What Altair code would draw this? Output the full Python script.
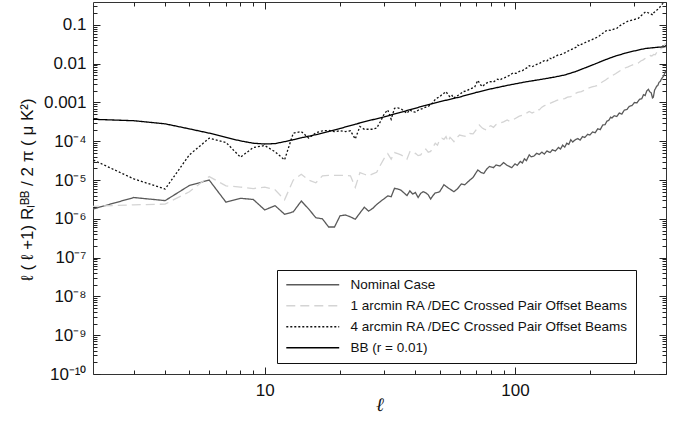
import json
import altair as alt
import pandas as pd

SERIES = [
    "Nominal Case",
    "1 arcmin RA /DEC Crossed Pair Offset Beams",
    "4 arcmin RA /DEC Crossed Pair Offset Beams",
    "BB (r = 0.01)",
]

# ---- Nominal case (log10 of value) ----
nominal_ell = [2, 3, 4, 5, 6, 7, 8, 9, 10, 11, 12, 13, 14, 15, 16, 17, 18, 19, 20, 21, 22, 23, 24, 25, 26, 27, 28, 29, 30,
               31, 32, 33, 34, 35, 36, 37, 38, 39, 40, 41, 42, 43, 44, 45, 46, 47, 48, 49, 50, 52, 54, 57, 59, 61, 63, 66,
               68, 71, 73, 75, 77, 79, 82, 84, 87, 90, 93, 97, 100, 102, 105, 107, 109, 111, 114, 116, 119, 122, 125, 128,
               131, 134, 138, 141, 145, 149, 152, 155, 158, 161, 164, 167, 170, 174, 178, 182, 186, 190, 195, 199, 204,
               209, 214, 219, 224, 229, 233, 237, 241, 244, 249, 255, 261, 267, 273, 280, 286, 293, 300, 307, 314, 321,
               326, 331, 336, 341, 345, 350, 354, 357, 361, 364, 368, 372, 376, 380, 384, 388, 392, 395, 398, 400]
nominal_log10 = [-5.77, -5.45, -5.53, -5.14, -5.00, -5.57, -5.47, -5.50, -5.77, -5.66, -5.88, -5.82, -5.54, -5.75, -5.97,
                 -6.00, -6.21, -6.21, -5.92, -5.90, -5.95, -6.01, -5.85, -5.70, -5.80, -5.73, -5.63, -5.55, -5.48, -5.41,
                 -5.43, -5.21, -5.23, -5.26, -5.33, -5.40, -5.28, -5.36, -5.32, -5.45, -5.34, -5.30, -5.33, -5.38, -5.49,
                 -5.40, -5.33, -5.32, -5.30, -5.12, -5.20, -5.30, -5.22, -5.10, -5.12, -5.00, -4.93, -4.74, -4.80, -4.83,
                 -4.72, -4.65, -4.68, -4.61, -4.64, -4.55, -4.62, -4.68, -4.58, -4.62, -4.52, -4.56, -4.45, -4.50, -4.35,
                 -4.40, -4.38, -4.31, -4.34, -4.28, -4.33, -4.25, -4.29, -4.22, -4.25, -4.16, -4.20, -4.10, -4.15, -4.05,
                 -4.08, -3.96, -4.02, -3.96, -3.93, -3.97, -3.88, -3.90, -3.82, -3.84, -3.76, -3.78, -3.68, -3.70, -3.58,
                 -3.57, -3.48, -3.46, -3.38, -3.40, -3.34, -3.36, -3.27, -3.30, -3.20, -3.18, -3.10, -3.08, -3.00, -3.01,
                 -2.92, -2.90, -2.80, -2.82, -2.70, -2.66, -2.72, -2.75, -2.88, -2.86, -2.68, -2.64, -2.58, -2.56, -2.48,
                 -2.46, -2.40, -2.36, -2.32, -2.27, -2.22, -2.17]

# ---- 1 arcmin offset ----
arc1_ell = [2, 3, 4, 5, 6, 7, 8, 9, 10, 11, 12, 13, 14, 15, 16, 17, 18, 19, 20, 21, 22, 23, 24, 25, 26, 27, 28, 29, 30,
            31, 32, 33, 34, 35, 36, 37, 38, 39, 40, 41, 42, 43, 44, 45, 46, 47, 48, 49, 50, 51, 52, 53, 54, 55, 56, 57,
            58, 60, 62, 64, 66, 68, 70, 72, 74, 75, 77, 79, 80, 82, 84, 87, 90, 93, 95, 98, 101, 104, 107, 109, 112,
            114, 117, 120, 122, 125, 128, 131, 134, 138, 143, 146, 149, 153, 158, 162, 167, 172, 178, 184, 190, 196,
            203, 209, 216, 223, 230, 237, 244, 252, 260, 267, 275, 283, 292, 301, 311, 318, 325, 333, 341, 347, 352,
            358, 363, 369, 375, 380, 385, 389, 393, 397, 400]
arc1_log10 = [-5.68, -5.64, -5.62, -5.30, -4.91, -5.15, -5.18, -5.22, -5.18, -5.25, -5.51, -5.00, -4.85, -5.00, -5.07,
              -4.89, -4.88, -4.88, -4.88, -4.88, -4.89, -5.19, -4.81, -4.85, -4.89, -4.84, -4.80, -4.61, -4.44, -4.32,
              -4.46, -4.29, -4.32, -4.35, -4.39, -4.46, -4.27, -4.33, -4.31, -4.37, -4.35, -4.25, -4.20, -4.28, -4.26,
              -4.15, -4.05, -4.10, -3.96, -3.92, -3.95, -3.88, -4.01, -3.90, -3.95, -4.01, -3.93, -3.84, -3.86, -3.88,
              -3.80, -3.81, -3.70, -3.58, -3.66, -3.68, -3.71, -3.62, -3.60, -3.64, -3.57, -3.53, -3.50, -3.45, -3.48,
              -3.45, -3.40, -3.35, -3.33, -3.30, -3.26, -3.23, -3.27, -3.24, -3.18, -3.19, -3.12, -3.08, -3.07, -3.02,
              -2.98, -2.95, -2.93, -2.92, -2.90, -2.86, -2.85, -2.78, -2.74, -2.72, -2.68, -2.63, -2.60, -2.58, -2.55,
              -2.47, -2.42, -2.36, -2.31, -2.26, -2.20, -2.15, -2.11, -2.08, -2.04, -2.01, -1.98, -1.93, -1.90, -1.85,
              -1.82, -1.79, -1.80, -1.76, -1.77, -1.70, -1.68, -1.63, -1.60, -1.58, -1.55, -1.50, -1.47]

# ---- 4 arcmin offset ----
arc4_ell = [2, 3, 4, 5, 6, 7, 8, 9, 10, 11, 12, 13, 14, 15, 16, 17, 18, 19, 20, 21, 22, 23, 24, 25, 26, 27, 28, 29, 30,
            31, 32, 33, 34, 35, 36, 37, 38, 39, 40, 41, 42, 43, 44, 45, 46, 47, 48, 49, 50, 51, 52, 53, 54, 55, 56, 57,
            58, 60, 62, 64, 66, 68, 69, 71, 73, 74, 76, 77, 79, 82, 85, 87, 89, 91, 93, 95, 98, 101, 104, 107, 109, 112,
            114, 117, 120, 122, 125, 128, 131, 134, 138, 140, 143, 146, 149, 153, 158, 162, 167, 170, 172, 175, 178,
            181, 184, 187, 190, 196, 203, 209, 216, 221, 226, 230, 235, 240, 245, 250, 255, 261, 268, 274, 281, 288,
            295, 303, 311, 316, 322, 327, 333, 338, 344, 350, 355, 358, 362, 366, 370, 374, 378, 382, 385, 389, 392,
            396, 400]
arc4_log10 = [-4.44, -4.97, -5.23, -4.35, -3.92, -4.03, -4.41, -4.16, -4.11, -4.27, -4.48, -3.79, -3.75, -3.92, -3.78,
              -3.73, -3.72, -3.75, -3.73, -3.75, -3.73, -3.94, -3.62, -3.69, -3.69, -3.69, -3.66, -3.49, -3.30, -3.19,
              -3.43, -3.15, -3.14, -3.16, -3.22, -3.28, -3.19, -3.24, -3.25, -3.20, -3.17, -3.15, -3.12, -3.10, -3.06,
              -3.00, -2.92, -2.88, -2.85, -2.80, -2.76, -2.72, -2.80, -2.86, -2.82, -2.89, -2.84, -2.80, -2.72, -2.70,
              -2.65, -2.62, -2.60, -2.43, -2.55, -2.59, -2.52, -2.50, -2.46, -2.47, -2.40, -2.42, -2.38, -2.36, -2.33,
              -2.30, -2.24, -2.25, -2.20, -2.18, -2.14, -2.10, -2.05, -2.08, -2.04, -2.02, -2.00, -1.95, -1.92, -1.93,
              -1.86, -1.88, -1.83, -1.80, -1.77, -1.76, -1.72, -1.68, -1.64, -1.62, -1.60, -1.58, -1.52, -1.54, -1.50,
              -1.48, -1.46, -1.42, -1.38, -1.34, -1.30, -1.24, -1.20, -1.16, -1.13, -1.14, -1.12, -1.10, -1.09, -1.03,
              -0.98, -0.95, -0.91, -0.89, -0.87, -0.85, -0.83, -0.78, -0.74, -0.70, -0.66, -0.68, -0.70, -0.72, -0.74,
              -0.69, -0.66, -0.63, -0.61, -0.58, -0.55, -0.51, -0.48, -0.45, -0.42, -0.39, -0.36]

# ---- BB (r = 0.01) ----
bb_ell = [2, 3, 4, 5, 6, 7, 8, 9, 10, 11, 12, 13, 14, 16, 18, 20, 23, 26, 30, 36, 43, 50, 60, 70, 80, 93, 110, 131,
          145, 158, 175, 190, 210, 229, 250, 275, 300, 330, 365, 400]
bb_log10 = [-3.43, -3.47, -3.55, -3.68, -3.79, -3.90, -3.99, -4.05, -4.07, -4.06, -4.01, -3.96, -3.91, -3.83, -3.75,
            -3.67, -3.56, -3.47, -3.37, -3.23, -3.09, -2.98, -2.86, -2.74, -2.65, -2.56, -2.47, -2.39, -2.34, -2.29,
            -2.20, -2.11, -2.00, -1.90, -1.81, -1.73, -1.67, -1.61, -1.58, -1.56]

# ---- axis ticks ----
x_major = [10, 100]
x_minor = [3, 4, 5, 6, 7, 8, 9, 20, 30, 40, 50, 60, 70, 80, 90, 200, 300, 400]
y_exponents = [-10, -9, -8, -7, -6, -5, -4, -3, -2, -1]
y_tick_labels = ["10⁻¹⁰", "10⁻⁹", "10⁻⁸", "10⁻⁷", "10⁻⁶", "10⁻⁵", "10⁻⁴", "0.001", "0.01", "0.1"]
y_major = [10.0 ** e for e in y_exponents]
y_minor = [m * 10.0 ** e for e in y_exponents for m in range(2, 10) if m * 10.0 ** e < 0.39]

rows = []
for name, ells, logs in [
    (SERIES[0], nominal_ell, nominal_log10),
    (SERIES[1], arc1_ell, arc1_log10),
    (SERIES[2], arc4_ell, arc4_log10),
    (SERIES[3], bb_ell, bb_log10),
]:
    for l, v in zip(ells, logs):
        rows.append({"series": name, "ell": l, "value": 10.0 ** v, "order": l})
df = pd.DataFrame(rows)

FONT = "Liberation Sans"
xscale = alt.Scale(type="log", domain=[2.06, 401], nice=False)
yscale = alt.Scale(type="log", domain=[1e-10, 0.39], nice=False)

label_expr = json.dumps(y_tick_labels, ensure_ascii=False) + "[round(log(datum.value) / LN10) + 10]"

common_tick = dict(domain=False, grid=False, tickColor="#222222", tickWidth=1)

lines = alt.Chart(df).mark_line(clip=True, strokeCap="butt").encode(
    x=alt.X("ell:Q", scale=xscale,
            axis=alt.Axis(values=x_major, orient="bottom", offset=-7, tickSize=7, labelFontSize=17,
                          labelFont=FONT, labelColor="#111111", labelPadding=8,
                          labelExpr="format(datum.value, 'd')",
                          title="ℓ", titleFont="DejaVu Serif", titleFontStyle="italic", titleFontWeight="normal",
                          titleFontSize=19, titleY=37, titleBaseline="middle", titleColor="#111111",
                          **common_tick)),
    y=alt.Y("value:Q", scale=yscale,
            axis=alt.Axis(values=y_major, orient="left", offset=-7, tickSize=7, labelFontSize=17,
                          labelFont=FONT, labelColor="#111111", labelPadding=7, labelExpr=label_expr,
                          title="ℓ ( ℓ +1) Rₗᴮᴮ / 2 π  ( μ K²)", titleFont=FONT, titleFontSize=17,
                          titleFontWeight="normal", titleColor="#111111",
                          titleX=-64, titleY=187, titleAngle=270, titleAlign="center", titleBaseline="bottom",
                          **common_tick)),
    color=alt.Color("series:N", title=None,
                    scale=alt.Scale(domain=SERIES, range=["#5a5a5a", "#d4d4d4", "#111111", "#000000"]),
                    legend=alt.Legend(orient="none", legendX=184, legendY=268, fillColor="white",
                                      strokeColor="#111111", padding=8, symbolType="M-5,0H5",
                                      symbolSize=112, symbolOffset=21, labelOffset=31,
                                      labelFont=FONT, labelFontSize=13.5, labelColor="#111111",
                                      rowPadding=6, labelLimit=400)),
    strokeDash=alt.StrokeDash("series:N", title=None,
                              scale=alt.Scale(domain=SERIES, range=[[1, 0], [9, 5], [2, 2], [1, 0]])),
    strokeWidth=alt.StrokeWidth("series:N", title=None,
                                scale=alt.Scale(domain=SERIES, range=[1.3, 1.3, 1.0, 2.2])),
    order="order:Q",
)


def tick_layer(xvals, yvals, xorient, yorient, size):
    return alt.Chart(df).mark_point(opacity=0, size=1).encode(
        x=alt.X("ell:Q", scale=xscale,
                axis=alt.Axis(values=xvals, orient=xorient, offset=-size, tickSize=size, labels=False,
                              title=None, **common_tick)),
        y=alt.Y("value:Q", scale=yscale,
                axis=alt.Axis(values=yvals, orient=yorient, offset=-size, tickSize=size, labels=False,
                              title=None, **common_tick)),
    )


chart = alt.layer(
    lines,
    tick_layer(x_minor, y_minor, "bottom", "left", 4),
    tick_layer(x_major, y_major, "top", "right", 7),
    tick_layer(x_minor, y_minor, "top", "right", 4),
).resolve_axis(x="independent", y="independent").properties(
    width=573, height=372,
    autosize=alt.AutoSizeParams(type="none"),
    padding={"left": 93, "top": 2, "right": 14, "bottom": 48},
    background="white",
).configure_view(stroke="#333333", strokeWidth=1)

chart.save("out.html", embed_options={"renderer": "svg", "actions": False})
